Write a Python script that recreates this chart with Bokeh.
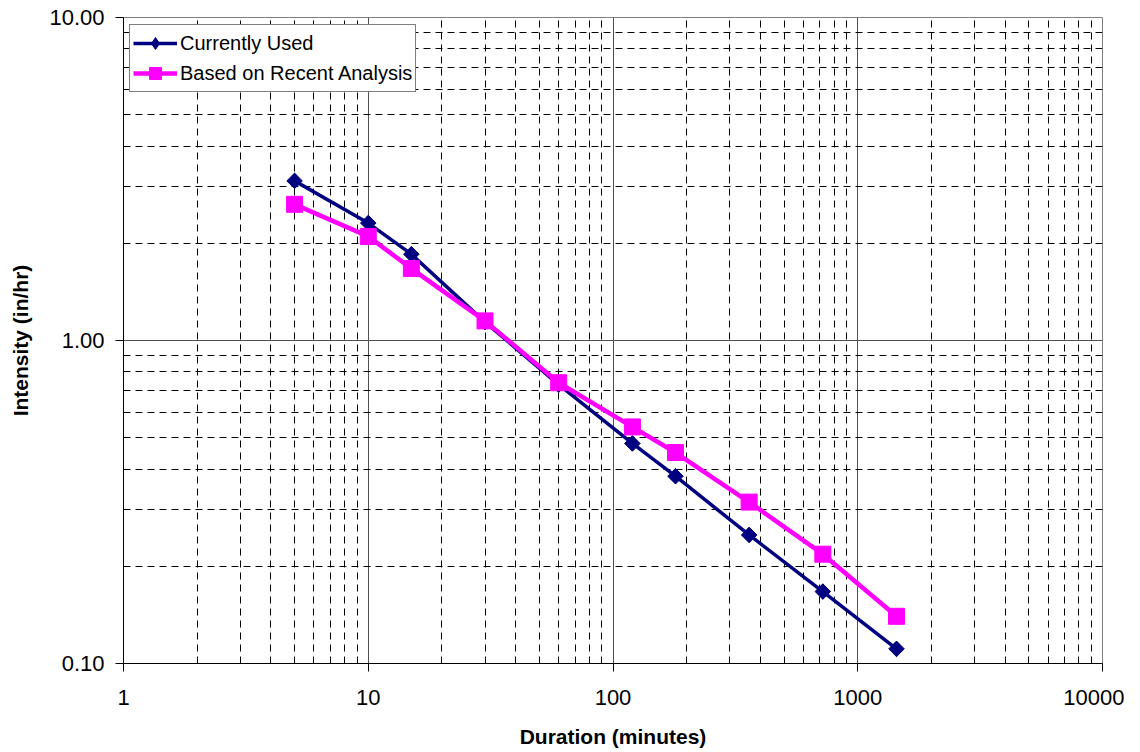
import math
from bokeh.plotting import figure
from bokeh.models import FixedTicker, CustomJSTickFormatter, Legend, LegendItem
from bokeh.embed import file_html
from bokeh.resources import INLINE

duration = [5, 10, 15, 30, 60, 120, 180, 360, 720, 1440]
currently_used = [3.12, 2.31, 1.85, 1.14, 0.73, 0.48, 0.38, 0.25, 0.167, 0.111]
recent_analysis = [2.64, 2.10, 1.67, 1.15, 0.74, 0.54, 0.45, 0.316, 0.218, 0.14]

x_major = [1, 10, 100, 1000, 10000]
x_minor = [m * d for d in [1, 10, 100, 1000] for m in range(2, 10)]
y_major = [0.1, 1, 10]
y_minor = [m * d for d in [0.1, 1] for m in range(2, 10)]

FONT = "Liberation Sans"

p = figure(width=1124, height=750, x_axis_type="log", y_axis_type="log",
           x_range=(1, 10000), y_range=(0.1, 10),
           output_backend="svg", toolbar_location=None,
           min_border_left=123, min_border_right=22,
           min_border_top=17, min_border_bottom=10)
p.background_fill_color = "white"
p.border_fill_color = "white"
p.outline_line_color = "#808080"
p.outline_line_width = 1

p.xaxis.ticker = FixedTicker(ticks=x_major, minor_ticks=x_minor)
p.yaxis.ticker = FixedTicker(ticks=y_major, minor_ticks=y_minor)
p.yaxis.formatter = CustomJSTickFormatter(code="return tick.toFixed(2);")
p.xaxis.formatter = CustomJSTickFormatter(code="return String(Math.round(tick));")

for ax in (p.xaxis, p.yaxis):
    ax.axis_line_color = "black"
    ax.axis_line_width = 1
    ax.major_tick_line_color = "black"
    ax.major_tick_out = 8
    ax.major_tick_in = 0
    ax.minor_tick_line_color = None
    ax.major_label_text_font = FONT
    ax.major_label_text_font_size = "22px"
    ax.major_label_text_color = "black"
    ax.axis_label_text_font = FONT
    ax.axis_label_text_font_size = "21px"
    ax.axis_label_text_font_style = "bold"
    ax.axis_label_text_color = "black"

p.xaxis.axis_label = "Duration (minutes)"
p.yaxis.axis_label = "Intensity (in/hr)"
p.xaxis.major_label_standoff = 18
p.yaxis.major_label_standoff = 11
p.xaxis.axis_label_standoff = 17
p.yaxis.axis_label_standoff = 14

for g in (p.xgrid, p.ygrid):
    g.grid_line_color = "#505050"
    g.grid_line_width = 1
    g.minor_grid_line_color = "black"
    g.minor_grid_line_width = 1
    g.minor_grid_line_dash = "7 5"

l1 = p.line(duration, currently_used, line_color="#000080", line_width=3.5)
# narrow diamond (used for the legend), hidden beneath the rotated squares
lg1 = p.scatter(duration, currently_used, marker="diamond", size=15,
                fill_color="#000080", line_color="#000080")
m1 = p.scatter(duration, currently_used, marker="square", size=11, angle=math.pi / 4,
               fill_color="#000080", line_color="#000080")
l2 = p.line(duration, recent_analysis, line_color="#FF00FF", line_width=4.5)
m2 = p.scatter(duration, recent_analysis, marker="square", size=16,
               fill_color="#FF00FF", line_color="#FF00FF")

legend = Legend(items=[
    LegendItem(label="Currently Used", renderers=[l1, lg1]),
    LegendItem(label="Based on Recent Analysis", renderers=[l2, m2]),
], location=(6, 571))
legend.label_text_font = FONT
legend.label_text_font_size = "20px"
legend.label_text_color = "black"
legend.border_line_color = "black"
legend.border_line_width = 1
legend.background_fill_color = "white"
legend.background_fill_alpha = 1
legend.glyph_width = 44
legend.glyph_height = 30
legend.label_standoff = 3
legend.label_height = 26
legend.spacing = 0
legend.padding = 3
legend.margin = 0
p.add_layout(legend)

open("out.html", "w").write(file_html(p, INLINE))
